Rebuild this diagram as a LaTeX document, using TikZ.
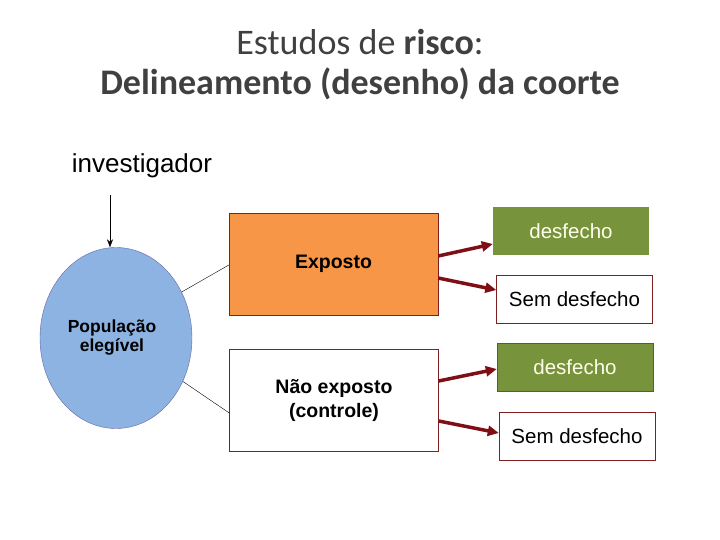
\documentclass[tikz,border=0pt]{standalone}
\usepackage{fontspec}
\setmainfont{Liberation Sans}
\newfontfamily\titlefont{Carlito}
\usetikzlibrary{arrows.meta,shapes.geometric}
\definecolor{popblue}{HTML}{8DB3E2}
\definecolor{expoorange}{HTML}{F79646}
\definecolor{outgreen}{HTML}{77933C}
\definecolor{boxred}{HTML}{7F1F1F}
\definecolor{arrred}{HTML}{7F0F14}
\definecolor{titlegray}{HTML}{404040}

\begin{document}
\begin{tikzpicture}[x=1pt,y=-1pt,
  groupbox/.style={draw=boxred,minimum width=209pt,minimum height=102pt,
    align=center,font=\bfseries\fontsize{19.5}{24}\selectfont},
  outbox/.style={minimum width=156pt,minimum height=48pt,
    font=\fontsize{20.5}{24}\selectfont},
  hitbox/.style={outbox,fill=outgreen,text=white!92!yellow},
  missbox/.style={outbox,draw=boxred,fill=white},
  arr/.style={-{Triangle[length=11pt,width=10pt]},line width=3.5pt,draw=arrred},
  link/.style={draw=black,thin}
]
\useasboundingbox (0,0) rectangle (720,540);

% titulo
\node[font=\titlefont\fontsize{36}{42}\selectfont,text=titlegray] (title1) at (360,42)
  {Estudos de \textbf{risco}:};
\node[font=\titlefont\bfseries\fontsize{36}{42}\selectfont,text=titlegray] (title2) at (360,84)
  {Delineamento (desenho) da coorte};

\node[font=\fontsize{26}{30}\selectfont] (inv) at (142,166) {investigador};
\coordinate (invtop) at (110,195);

% populacao
\node[ellipse,draw=black!60!blue!60,fill=popblue,minimum width=152pt,
  minimum height=181pt,inner sep=0pt] (pop) at (116,338) {};
\node[align=center,font=\bfseries\fontsize{17.5}{19}\selectfont] (poplabel) at (112,338)
  {População\\elegível};

% grupos
\node[groupbox,fill=expoorange] (expo) at (333.5,264) {Exposto};
\node[groupbox,fill=white] (naoexpo) at (334,400) {Não exposto\\(controle)};

% desfechos
\node[hitbox] (des1) at (571,231) {desfecho};
\node[missbox] (sem1) at (574.5,299) {Sem desfecho};
\node[hitbox,draw=boxred!60!outgreen] (des2) at (575,367) {desfecho};
\node[missbox] (sem2) at (577,436) {Sem desfecho};

\draw[-{Stealth[length=8pt,width=6pt]},thin] (invtop) -- (pop.north -| invtop);
\draw[link] (pop.35) -- (expo.west |- 0,265);
\draw[link] (pop.-33) -- (naoexpo.west |- 0,413);

\draw[arr] (expo.east |- 0,256) -- (des1.west |- 0,244);
\draw[arr] (expo.east |- 0,278) -- (sem1.west |- 0,290);
\draw[arr] (naoexpo.east |- 0,381) -- (des2.west |- 0,369);
\draw[arr] (naoexpo.east |- 0,421) -- (sem2.west |- 0,433);
\end{tikzpicture}
\end{document}
